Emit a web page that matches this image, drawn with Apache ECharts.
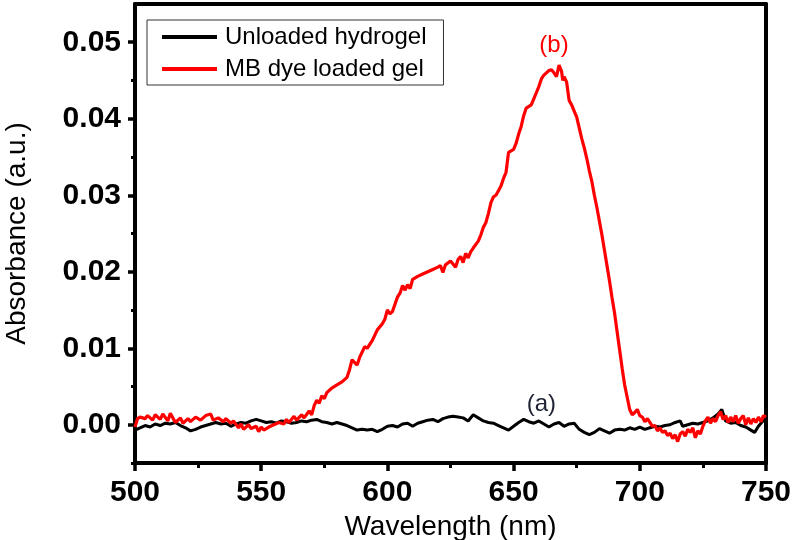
<!DOCTYPE html>
<html>
<head>
<meta charset="utf-8">
<script src="https://cdn.jsdelivr.net/npm/echarts@6/dist/echarts.min.js"></script>
<style>html,body{margin:0;padding:0;background:#fff}#c{width:792px;height:540px}</style>
</head>
<body>
<div id="c"></div>
<script>
// ---- data ----
const seriesNames = ['Unloaded hydrogel', 'MB dye loaded gel'];
const xTicks = [500, 550, 600, 650, 700, 750];
const yTickLabels = [0, 0.01, 0.02, 0.03, 0.04, 0.05];
const yMinorTicks = [-0.005, 0.005, 0.015, 0.025, 0.035, 0.045];

const blackX = [500,502,504,506,508,510,512,514,516,518,520,522,524,526,528,530,532,534,536,538,540,542,544,546,548,550,552,554,556,558,560,562,564,566,568,570,572,574,576,578,580,582,584,586,588,590,592,594,596,598,600,602,604,606,608,610,612,614,616,618,620,622,624,626,628,630,632,634,636,638,640,642,644,646,648,650,652,654,656,658,660,662,664,666,668,670,672,674,676,678,680,682,684,686,688,690,692,694,696,698,700,702,704,706,708,710,712,714,716,717,719,721,723,725,727,729,731,732.5,734,736,738,740,742,744,745.5,747,748.5,750];
const blackY = [-0.0007,-0.0004,-0.0001,-0.0003,0.0001,-0.0001,0.0002,0.0001,0.0003,-0.0001,-0.0004,-0.0008,-0.0006,-0.0003,-0.0001,0.0001,0.0003,0.0001,0.0002,-0.0002,0.0001,0.0003,0.0002,0.0005,0.0007,0.0005,0.0003,0.0004,0.0002,0.0005,0.0004,0.0002,0.0003,0.0005,0.0004,0.0006,0.0007,0.0004,0.0003,0.0001,0.0003,0.0001,-0.0001,-0.0004,-0.0007,-0.0006,-0.0007,-0.0006,-0.0009,-0.0006,-0.0002,-0.0001,-0.0003,0.0001,0.0002,-0.0002,0.0002,0.0004,0.0006,0.0007,0.0004,0.0008,0.0010,0.0011,0.0010,0.0009,0.0005,0.0013,0.0009,0.0005,0.0003,0.0002,-0.0001,-0.0004,-0.0007,-0.0002,0.0003,0.0007,0.0004,0.0002,0.0005,0.0001,-0.0003,0.0001,0.0003,-0.0002,0.0001,0.0002,-0.0006,-0.0010,-0.0013,-0.0010,-0.0005,-0.0008,-0.0011,-0.0007,-0.0006,-0.0007,-0.0004,-0.0006,-0.0003,-0.0006,-0.0004,-0.0002,-0.0003,-0.0001,0.0000,0.0003,0.0005,-0.0002,0.0000,0.0002,0.0001,0.0003,0.0005,0.0009,0.0014,0.0020,0.0005,0.0002,0.0003,-0.0001,-0.0003,-0.0007,-0.0010,-0.0002,0.0004,0.0007];

const redX = [500,501,502,504,505,507,508,510,511,513,514,516,518,519,521,522,524,526,528,530,531,533,535,536,538,539,541,542,543,545,546,548,549,550,551,553,555,557,559,560,561,563,564,566,567,569,570,571,572,573,574,575,576,578,580,582,584,585,586,588,589,591,592,594,596,598,599,600,601,602,604,605,606,607,608,609,610,612,614,616,618,620,621,622,623,625,626,627,628,629,630,631,632,633,634,636,637,638,639,640,641,642,643,644,645,646,647,648,649,650,651,652,653,654,655,657,658,659,660,661,662,663,664,665,666,667,668,669,669.5,670,671,672,673,674,675,676,677,678,679,680,681,682,683,684,685,686,687,688,689,690,691,692,693,694,695,696,697,698,699,700,701,702,703,704,705,706,707,708,709,710,711,712,713,714,715,716,717,718,719,720,721,722,723,724,725,726,727,728,729,730,731,732,733,734,735,736,737,738,739,740,741,742,743,744,745,746,747,748,749,750];
const redY = [-0.0003,0.0008,0.0010,0.0008,0.0012,0.0006,0.0013,0.0007,0.0014,0.0005,0.0015,0.0003,0.0009,0.0002,0.0008,0.0004,0.0010,0.0006,0.0012,0.0014,0.0006,0.0009,0.0004,0.0008,0.0002,0.0005,-0.0004,0.0001,-0.0006,0.0000,-0.0005,-0.0002,-0.0009,-0.0003,-0.0007,-0.0003,0.0000,0.0003,0.0001,0.0007,0.0003,0.0011,0.0006,0.0013,0.0009,0.0018,0.0013,0.0025,0.0032,0.0028,0.0038,0.0034,0.0042,0.0048,0.0052,0.0056,0.0062,0.0072,0.0085,0.0078,0.0088,0.0102,0.0100,0.0110,0.0124,0.0132,0.0138,0.0150,0.0145,0.0148,0.0167,0.0172,0.0182,0.0176,0.0183,0.0178,0.0190,0.0194,0.0197,0.0200,0.0203,0.0206,0.0208,0.0199,0.0209,0.0214,0.0210,0.0206,0.0216,0.0220,0.0212,0.0224,0.0218,0.0226,0.0231,0.0240,0.0248,0.0258,0.0264,0.0276,0.0290,0.0298,0.0300,0.0306,0.0312,0.0322,0.0330,0.0356,0.0358,0.0360,0.0368,0.0380,0.0390,0.0404,0.0414,0.0418,0.0426,0.0434,0.0442,0.0452,0.0457,0.0460,0.0463,0.0464,0.0460,0.0455,0.0470,0.0462,0.0450,0.0455,0.0448,0.0424,0.0418,0.0410,0.0402,0.0388,0.0374,0.0362,0.0348,0.0332,0.0318,0.0300,0.0284,0.0266,0.0248,0.0228,0.0208,0.0188,0.0166,0.0146,0.0122,0.0098,0.0074,0.0052,0.0036,0.0020,0.0013,0.0016,0.0020,0.0012,0.0010,0.0004,0.0008,0.0003,-0.0002,-0.0001,-0.0008,-0.0004,-0.0010,-0.0008,-0.0014,-0.0011,-0.0018,-0.0013,-0.0022,-0.0012,-0.0009,-0.0015,-0.0006,-0.0010,-0.0004,-0.0017,-0.0008,-0.0012,-0.0002,0.0005,0.0010,0.0002,0.0008,0.0004,0.0012,0.0017,0.0007,0.0012,0.0003,0.0010,0.0004,0.0012,0.0002,0.0008,0.0012,0.0000,0.0009,0.0001,0.0008,0.0003,0.0010,0.0004,0.0012,0.0010];

const annotA = {text: '(a)', x: 661, y: 0.0026};
const annotB = {text: '(b)', x: 666, y: 0.0496};

// ---- chart ----
const zip = (xs, ys) => xs.map((x, i) => [x, ys[i]]);
const FONT = 'Liberation Sans, Arial, sans-serif';
const chart = echarts.init(document.getElementById('c'), null, {renderer: 'canvas'});

const axisLineStyle = {color: '#000', width: 4};

chart.setOption({
  backgroundColor: '#fff',
  animation: false,
  grid: {left: 135, right: 26, top: 4, bottom: 77, containLabel: false, outerBoundsMode: 'none'},
  legend: {
    left: 147, top: 20,
    orient: 'vertical',
    data: seriesNames,
    icon: 'rect',
    borderColor: '#333', borderWidth: 1,
    padding: [3, 17, 2, 15],
    itemWidth: 55, itemHeight: 4, itemGap: 4,
    textStyle: {fontFamily: FONT, fontSize: 24, color: '#000', lineHeight: 28, padding: [0, 0, 0, 3]}
  },
  xAxis: [{
    type: 'value', min: 500, max: 750, interval: 50,
    position: 'bottom',
    name: 'Wavelength (nm)', nameLocation: 'middle', nameGap: 47,
    nameTextStyle: {fontFamily: FONT, fontSize: 28, color: '#000'},
    axisLine: {show: true, onZero: false, lineStyle: axisLineStyle},
    axisTick: {show: true, inside: false, length: 8, lineStyle: {width: 3.5, color: '#000'}},
    minorTick: {show: true, splitNumber: 2, length: 5, lineStyle: {width: 3, color: '#000'}},
    axisLabel: {fontFamily: FONT, fontSize: 30, fontWeight: 'bold', color: '#000', margin: 15},
    splitLine: {show: false}
  }, {
    type: 'value', min: 500, max: 750, position: 'top',
    axisLine: {show: true, onZero: false, lineStyle: axisLineStyle},
    axisTick: {show: false}, axisLabel: {show: false}, splitLine: {show: false}
  }],
  yAxis: [{
    type: 'value', min: -0.005, max: 0.055,
    position: 'left',
    name: 'Absorbance (a.u.)', nameLocation: 'middle', nameGap: 104, nameRotate: 90,
    nameTextStyle: {fontFamily: FONT, fontSize: 28, color: '#000'},
    axisLine: {show: true, onZero: false, lineStyle: axisLineStyle},
    axisTick: {show: true, inside: false, length: 7, customValues: yTickLabels, lineStyle: {width: 3.5, color: '#000'}},
    axisLabel: {fontFamily: FONT, fontSize: 30, fontWeight: 'bold', color: '#000', margin: 14,
      customValues: yTickLabels, formatter: v => v.toFixed(2)},
    splitLine: {show: false}
  }, {
    type: 'value', min: -0.005, max: 0.055, position: 'left',
    axisLine: {show: false},
    axisTick: {show: true, inside: false, length: 4, customValues: yMinorTicks, lineStyle: {width: 3, color: '#000'}},
    axisLabel: {show: false}, splitLine: {show: false}
  }, {
    type: 'value', min: -0.005, max: 0.055, position: 'right',
    axisLine: {show: true, onZero: false, lineStyle: axisLineStyle},
    axisTick: {show: false}, axisLabel: {show: false}, splitLine: {show: false}
  }],
  series: [{
    name: seriesNames[0], type: 'line', xAxisIndex: 0, yAxisIndex: 0,
    data: zip(blackX, blackY), showSymbol: false, symbol: 'none',
    lineStyle: {color: '#000', width: 3}, itemStyle: {color: '#000'}, z: 3,
    markPoint: {
      symbol: 'circle', symbolSize: 1, itemStyle: {color: 'rgba(0,0,0,0)'},
      label: {show: true, position: 'inside', formatter: annotA.text, fontFamily: FONT, fontSize: 24, color: '#1e2233'},
      data: [{coord: [annotA.x, annotA.y]}]
    }
  }, {
    name: seriesNames[1], type: 'line', xAxisIndex: 0, yAxisIndex: 0,
    data: zip(redX, redY), showSymbol: false, symbol: 'none',
    lineStyle: {color: '#ff0000', width: 3.2}, itemStyle: {color: '#ff0000'}, z: 4,
    markPoint: {
      symbol: 'circle', symbolSize: 1, itemStyle: {color: 'rgba(0,0,0,0)'},
      label: {show: true, position: 'inside', formatter: annotB.text, fontFamily: FONT, fontSize: 24, color: '#ff0000'},
      data: [{coord: [annotB.x, annotB.y]}]
    }
  }]
});
</script>
</body>
</html>
